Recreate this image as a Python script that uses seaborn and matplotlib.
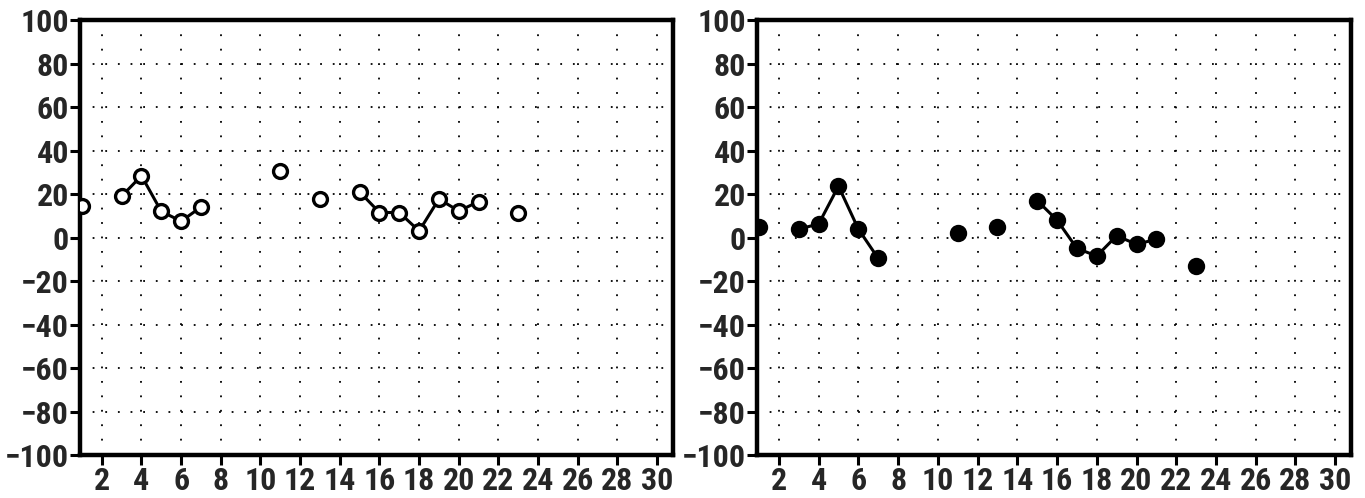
import numpy as np
import pandas as pd
import matplotlib
matplotlib.use("Agg")
import matplotlib.pyplot as plt
import seaborn as sns
from matplotlib import font_manager

# Data (day of month -> value)
days = [1, 3, 4, 5, 6, 7, 11, 13, 15, 16, 17, 18, 19, 20, 21, 23]
left_values = [14.6, 19, 28.4, 12, 7.5, 14, 30.7, 17.7, 21, 11.5, 11.5, 3, 17.7, 12.2, 16.5, 11.5]
right_values = [5, 3.9, 6.2, 23.6, 3.9, -9.6, 2, 4.7, 17, 8, -5, -8.5, 0.8, -3.1, -0.8, -12.9]

x_ticks = list(range(2, 31, 2))
y_ticks = list(range(-100, 101, 20))

sns.set_theme(style="white")
plt.rcParams['font.family'] = ['Roboto Condensed', 'DejaVu Sans']
plt.rcParams['font.weight'] = 'bold'

# pin the bold condensed file so the choice doesn't depend on font scan order
bold_file = None
for f in font_manager.fontManager.ttflist:
    if f.name == 'Roboto Condensed' and 'italic' not in f.fname.lower() and 'bold' in f.fname.lower() \
            and 'semi' not in f.fname.lower() and 'extra' not in f.fname.lower():
        bold_file = f.fname
        break
if bold_file:
    tick_font = font_manager.FontProperties(fname=bold_file, size=23)
else:
    tick_font = font_manager.FontProperties(family=['Roboto Condensed', 'DejaVu Sans'],
                                            weight='bold', size=23)


def make_frame(vals):
    df = pd.DataFrame({'day': days, 'val': vals})
    # consecutive days are joined by a line, gaps break it
    df['seg'] = (df['day'].diff() != 1).cumsum()
    return df


fig = plt.figure(figsize=(13.65, 4.98), dpi=100)
ax_l = fig.add_axes([0.0586, 0.0863, 0.4344, 0.8735])
ax_r = fig.add_axes([0.5546, 0.0863, 0.4352, 0.8735])

panels = [
    (ax_l, make_frame(left_values), 'white', 10, 2.4),
    (ax_r, make_frame(right_values), 'black', 11, 1.5),
]

for ax, df, face, ms, mew in panels:
    sns.lineplot(data=df, x='day', y='val', units='seg', estimator=None,
                 color='black', lw=2.2, marker='o', markersize=ms,
                 markerfacecolor=face, markeredgecolor='black',
                 markeredgewidth=mew, legend=False, ax=ax, zorder=3)

    ax.set_xlim(0.9, 30.8)
    ax.set_ylim(-100, 100)
    ax.set_xticks(x_ticks)
    ax.set_yticks(y_ticks)
    ax.set_xticklabels([str(t) for t in x_ticks], fontproperties=tick_font)
    ax.set_yticklabels([str(t).replace('-', '\u2212') for t in y_ticks], fontproperties=tick_font)
    ax.set_xlabel('')
    ax.set_ylabel('')

    # dotted grid
    for t in x_ticks:
        ax.axvline(t, color='black', lw=1.3, ls=(0, (1, 7)), zorder=1)
    for t in y_ticks[1:-1]:
        ax.axhline(t, color='black', lw=1.3, ls=(0, (1, 6)), zorder=1)

    for s in ax.spines.values():
        s.set_visible(True)
        s.set_color('black')
        s.set_linewidth(3.2)

    ax.tick_params(axis='both', which='both', direction='out', length=7,
                   width=2.2, color='black', pad=1,
                   bottom=True, left=True, top=False, right=False)

fig.savefig('out.png', dpi=100, facecolor='white')
